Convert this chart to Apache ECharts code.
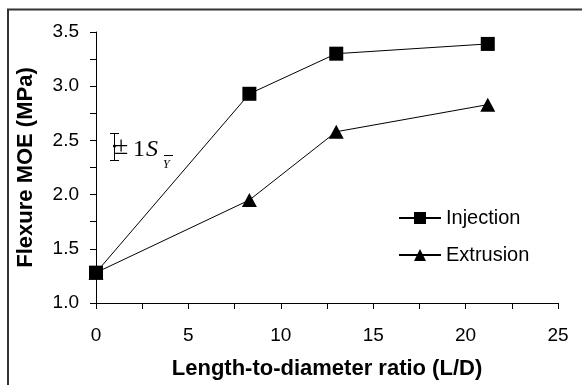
<!DOCTYPE html>
<html>
<head>
<meta charset="utf-8">
<script src="https://cdn.jsdelivr.net/npm/echarts@6/dist/echarts.min.js"></script>
<style>html,body{margin:0;padding:0;background:#fff;}#c{width:582px;height:385px;}</style>
</head>
<body>
<div id="c"></div>
<script>
const ratios = [0, 8.3, 13, 21.2];
const injection = [1.28, 2.93, 3.30, 3.39];
const extrusion = [1.28, 1.95, 2.58, 2.83];
const seriesNames = ['Injection', 'Extrusion'];
const xTitle = 'Length-to-diameter ratio (L/D)';
const yTitle = 'Flexure MOE (MPa)';

const FONT = 'Arial, "Liberation Sans", sans-serif';
const SERIF = '"Times New Roman", "Liberation Serif", serif';
const chart = echarts.init(document.getElementById('c'), null, {renderer: 'canvas'});
const pair = (arr) => ratios.map((r, i) => [r, arr[i]]);

chart.setOption({
  animation: false,
  backgroundColor: '#fff',
  grid: {left: 96, right: 24, top: 32, bottom: 82, containLabel: false},
  xAxis: {
    type: 'value', min: 0, max: 25, interval: 5,
    name: xTitle, nameLocation: 'middle', nameGap: 55,
    nameTextStyle: {fontFamily: FONT, fontSize: 22, fontWeight: 'bold', color: '#000'},
    axisLine: {show: true, onZero: false, lineStyle: {color: '#000', width: 1}},
    axisTick: {show: true, inside: false, length: 6, lineStyle: {color: '#000'}},
    minorTick: {show: true, splitNumber: 2, length: 6, lineStyle: {color: '#000'}},
    axisLabel: {fontFamily: FONT, fontSize: 19, color: '#000', margin: 23},
    splitLine: {show: false}
  },
  yAxis: {
    type: 'value', min: 1, max: 3.5, interval: 0.5,
    name: yTitle, nameLocation: 'middle', nameGap: 59, nameRotate: 90,
    nameTextStyle: {fontFamily: FONT, fontSize: 22, fontWeight: 'bold', color: '#000'},
    axisLine: {show: true, lineStyle: {color: '#000', width: 1}},
    axisTick: {show: true, inside: false, length: 6, lineStyle: {color: '#000'}},
    minorTick: {show: true, splitNumber: 2, length: 6, lineStyle: {color: '#000'}},
    axisLabel: {fontFamily: FONT, fontSize: 19, color: '#000', margin: 17,
      formatter: v => v.toFixed(1)},
    splitLine: {show: false}
  },
  legend: {
    orient: 'vertical', left: 393, top: 203, itemWidth: 42, itemHeight: 15, itemGap: 17,
    data: seriesNames,
    textStyle: {fontFamily: FONT, fontSize: 20, color: '#000'}
  },
  series: [
    {
      name: seriesNames[1], type: 'line', data: pair(extrusion), z: 2,
      symbol: 'triangle', symbolSize: [15, 14],
      lineStyle: {color: '#000', width: 1}, itemStyle: {color: '#000'}
    },
    {
      name: seriesNames[0], type: 'line', data: pair(injection), z: 3,
      symbol: 'rect', symbolSize: 14,
      lineStyle: {color: '#000', width: 1}, itemStyle: {color: '#000'}
    }
  ],
  graphic: [
    {type: 'rect', shape: {x: 8, y: 9.5, width: 620, height: 420},
     style: {fill: null, stroke: '#333', lineWidth: 2}, silent: true},
    {type: 'line', shape: {x1: 114.5, y1: 133.5, x2: 114.5, y2: 160.5}, style: {stroke: '#000', lineWidth: 1}},
    {type: 'line', shape: {x1: 110, y1: 133.5, x2: 119, y2: 133.5}, style: {stroke: '#000', lineWidth: 1}},
    {type: 'line', shape: {x1: 110, y1: 160.5, x2: 119, y2: 160.5}, style: {stroke: '#000', lineWidth: 1}},
    {type: 'circle', shape: {cx: 114.5, cy: 146, r: 1.6}, style: {fill: '#000'}},
    {type: 'text', x: 114, y: 147, style: {text: '±', font: '26px ' + SERIF, fill: '#000', textVerticalAlign: 'middle'}},
    {type: 'text', x: 133, y: 150, style: {text: '1', font: '24px ' + SERIF, fill: '#000', textVerticalAlign: 'middle'}},
    {type: 'text', x: 146, y: 150, style: {text: 'S', font: 'italic 24px ' + SERIF, fill: '#000', textVerticalAlign: 'middle'}},
    {type: 'text', x: 163, y: 165, style: {text: 'Y', font: 'italic 12px ' + SERIF, fill: '#000', textVerticalAlign: 'middle'}},
    {type: 'line', shape: {x1: 164, y1: 155.5, x2: 173, y2: 155.5}, style: {stroke: '#000', lineWidth: 1}}
  ]
});
</script>
</body>
</html>
